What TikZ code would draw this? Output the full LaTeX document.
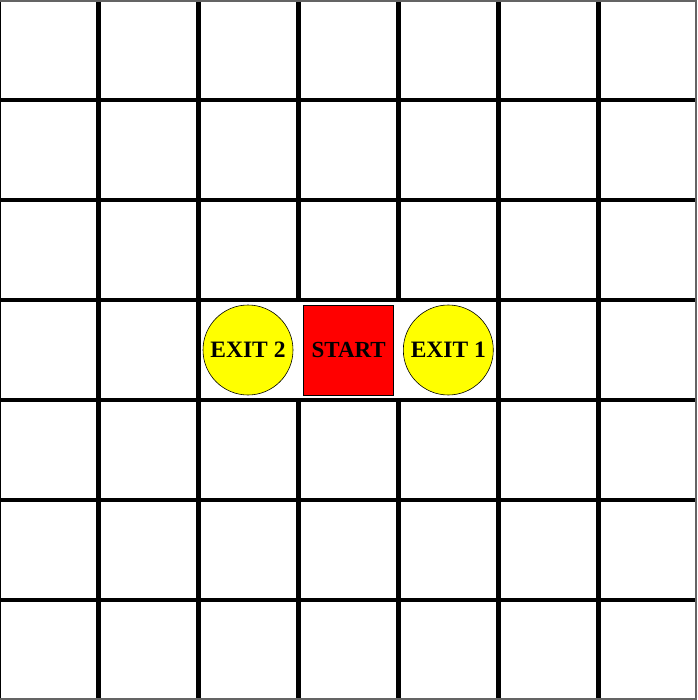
\documentclass[tikz,border=0pt]{standalone}
\usepackage{fontspec}
\setmainfont{Liberation Serif}
\definecolor{bordergray}{RGB}{100,100,100}
\definecolor{exityellow}{RGB}{255,255,0}
\definecolor{startred}{RGB}{255,0,0}
\tikzset{
  gridline/.style={line width=4.5pt, black},
  exitnode/.style={circle, draw=black, line width=0.6pt, fill=exityellow, minimum size=90pt, inner sep=0pt, font=\fontsize{23.5}{23.5}\selectfont\bfseries},
  startnode/.style={rectangle, draw=black, line width=0.6pt, fill=startred, minimum size=90pt, inner sep=0pt, font=\fontsize{23}{23}\selectfont\bfseries}
}
\begin{document}
\begin{tikzpicture}[x=1pt,y=-1pt]
\useasboundingbox (0,0) rectangle (697,700);
\fill[white] (0,0) rectangle (697,700);
% horizontal grid lines
\foreach \y in {100,200,300,400,500,600} {
  \draw[gridline] (0,\y) -- (697,\y);
}
% vertical grid lines (full)
\foreach \x in {98.5,198.5,498.7,598.5} {
  \draw[gridline] (\x,0) -- (\x,700);
}
% vertical grid lines interrupted in the middle row
\foreach \x in {298.5,398.7} {
  \draw[gridline] (\x,0) -- (\x,300);
  \draw[gridline] (\x,400) -- (\x,700);
}
% left edge
\draw[black, line width=1pt] (0.5,0) -- (0.5,700);
% outer border (top, right, bottom)
\draw[bordergray, line width=2pt] (0,1) -- (696,1) -- (696,699) -- (0,699);
% nodes
\node[exitnode] (exit2) at (248,350) {EXIT 2};
\node[startnode] (start) at (348.7,350) {START};
\node[exitnode] (exit1) at (448.3,350) {EXIT 1};
\end{tikzpicture}
\end{document}
